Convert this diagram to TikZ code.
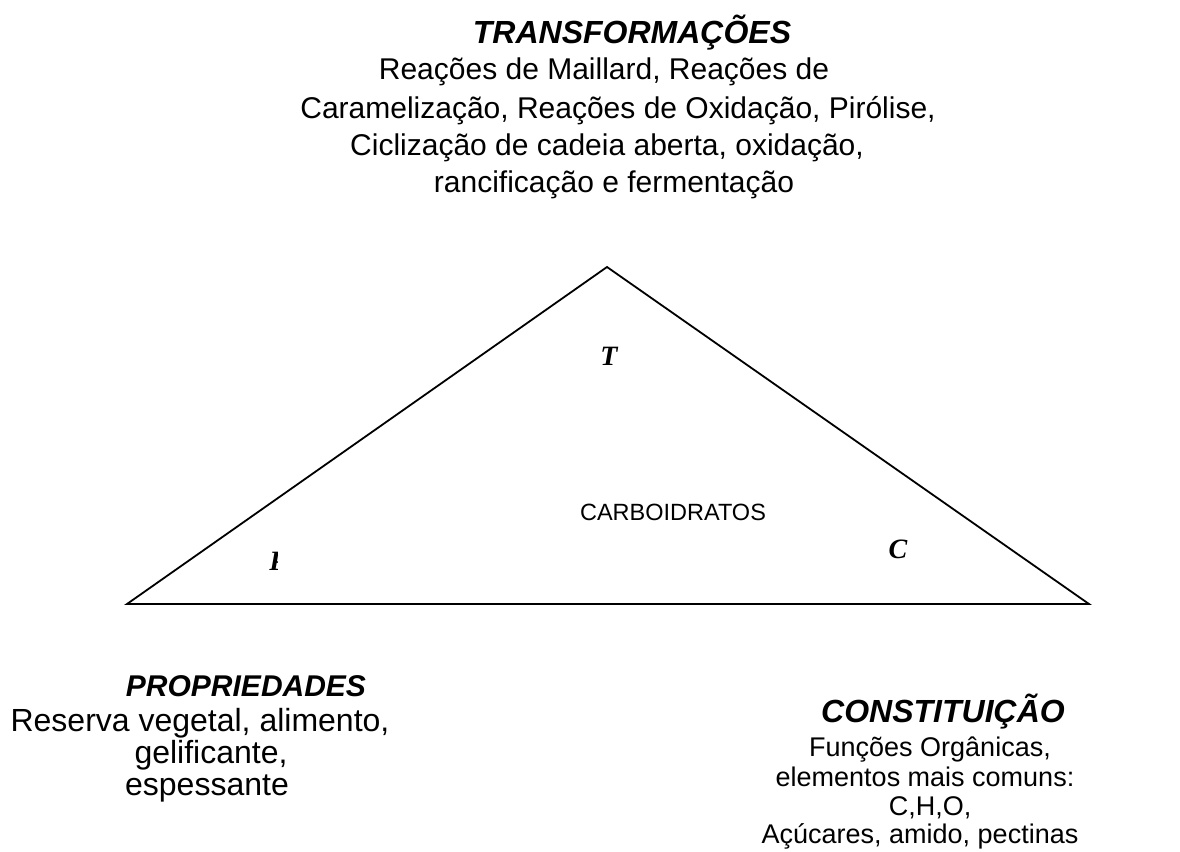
\documentclass[tikz,border=0pt]{standalone}
\usepackage{fontspec}
\setmainfont{Liberation Sans}
\newfontfamily\serifbi{Liberation Serif}
\begin{document}
\begin{tikzpicture}[x=1pt,y=-1pt,
  txt/.style={inner sep=0pt, anchor=base, font=\fontsize{32}{36}\selectfont},
  rtxt/.style={inner sep=0pt, anchor=base, font=\fontsize{27}{31}\selectfont},
  toptxt/.style={inner sep=0pt, anchor=base, font=\fontsize{30}{36}\selectfont},
  ttl/.style={inner sep=0pt, anchor=base, font=\fontsize{31}{36}\selectfont\bfseries\itshape},
  corner/.style={inner sep=0pt, font=\fontsize{28}{32}\serifbi\bfseries\itshape},
  edge/.style={line width=1.8pt, line join=miter}]
\useasboundingbox (0,0) rectangle (1180,851);
\fill[white] (0,0) rectangle (1180,851);
% triangle
\coordinate (apex) at (607,267);
\coordinate (left) at (127,604);
\coordinate (right) at (1089,604);
\draw[edge] (left) -- (apex) -- (right) -- cycle;
% corner letters
\node[corner] (cT) at (609,356) {T};
\node[corner] (cC) at (898,549) {C};
\begin{scope}
\clip (262,545) rectangle (277,575);
\node[corner] (cP) at (278,561) {P};
\end{scope}
\node[inner sep=0pt, font=\fontsize{23.5}{28}\selectfont] (carb) at (673,512) {CARBOIDRATOS};
% top block
\node[ttl, font=\fontsize{32}{36}\selectfont\bfseries\itshape] (tT) at (632,44) {TRANSFORMAÇÕES};
\node[toptxt] (t1) at (604,80) {Reações de Maillard, Reações de};
\node[toptxt] (t2) at (618,118) {Caramelização, Reações de Oxidação, Pirólise,};
\node[toptxt] (t3) at (607,155) {Ciclização de cadeia aberta, oxidação,};
\node[toptxt] (t4) at (614,192) {rancificação e fermentação};
% left block
\node[ttl, font=\fontsize{30}{36}\selectfont\bfseries\itshape] (pT) at (246,696) {PROPRIEDADES};
\node[txt] (p1) at (200,731) {Reserva vegetal, alimento,};
\node[txt] (p2) at (211,763) {gelificante,};
\node[txt] (p3) at (207,795) {espessante};
% right block
\node[ttl, font=\fontsize{32}{36}\selectfont\bfseries\itshape] (cTt) at (943,722) {CONSTITUIÇÃO};
\node[rtxt] (c1) at (930,756) {Funções Orgânicas,};
\node[rtxt] (c2) at (925,786) {elementos mais comuns:};
\node[rtxt] (c3) at (930,815) {C,H,O,};
\node[rtxt] (c4) at (920,843) {Açúcares, amido, pectinas};
\end{tikzpicture}
\end{document}
